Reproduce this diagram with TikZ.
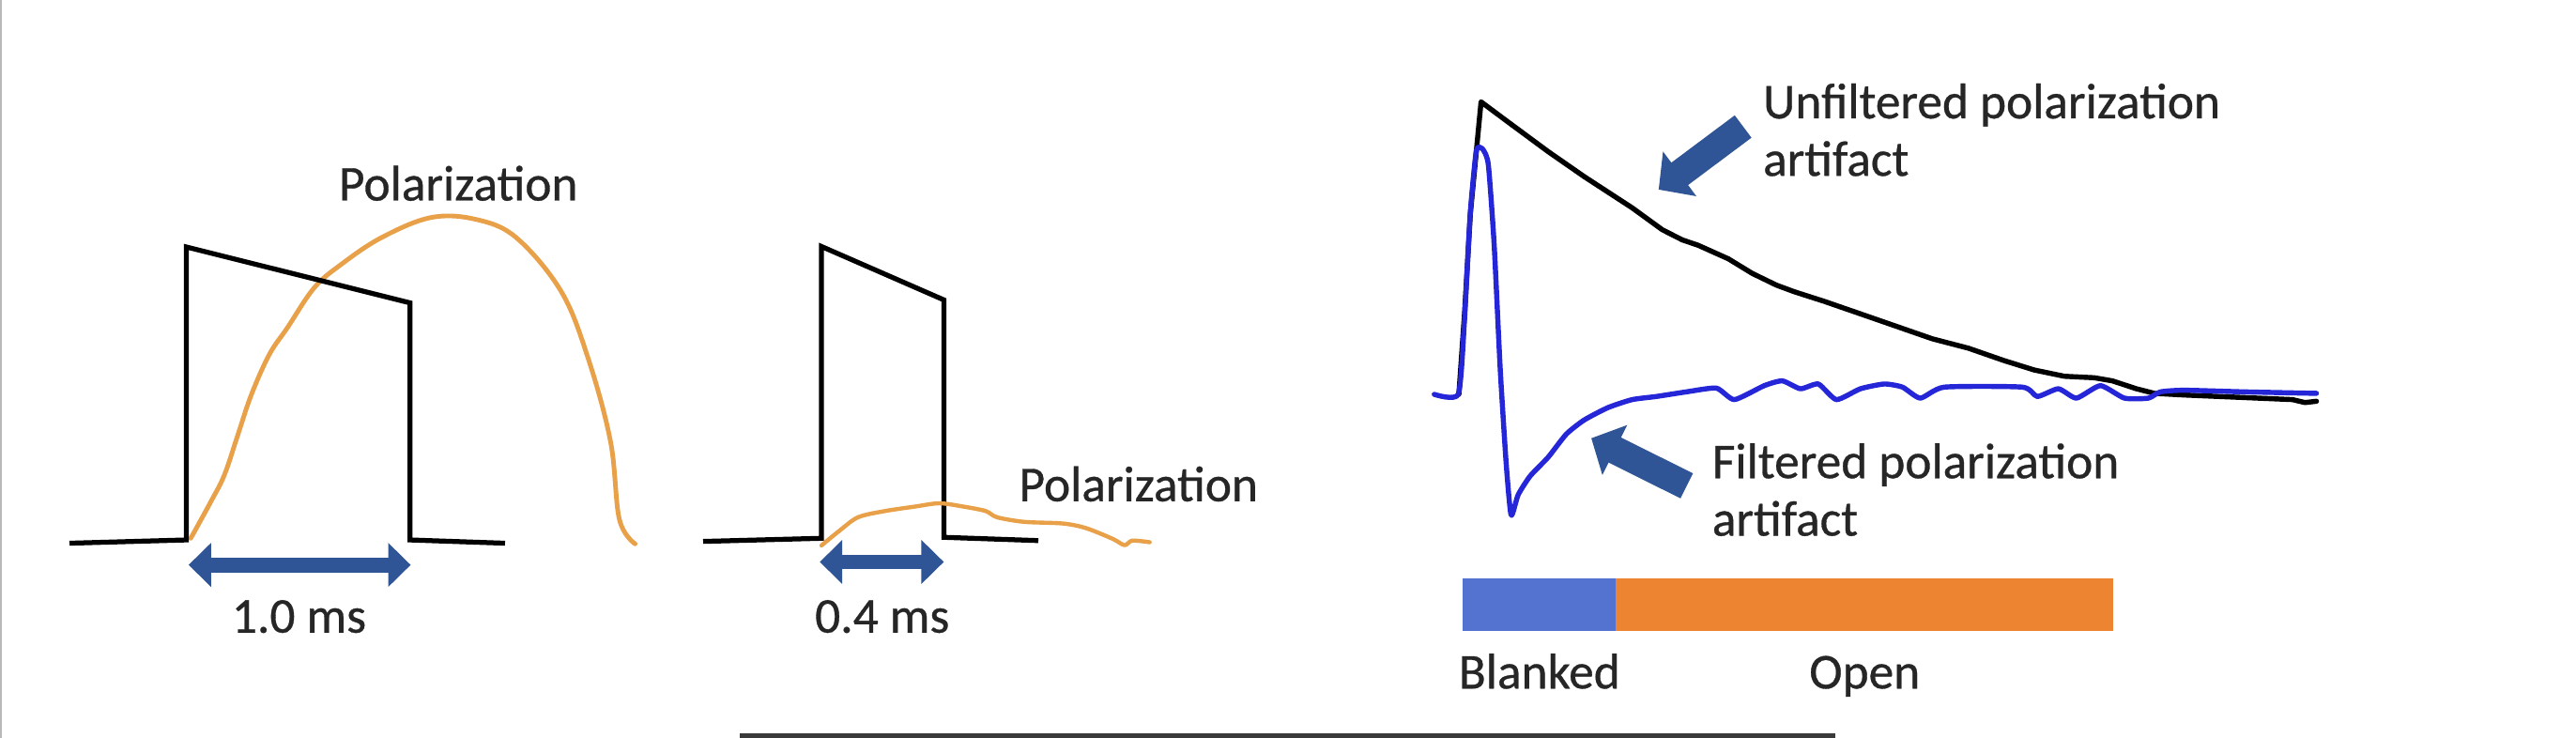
\documentclass[tikz,border=0pt]{standalone}
\usepackage{fontspec}
\setmainfont{Carlito}
\newfontfamily\lblfont{Carlito}[FakeBold=0.6]
\usetikzlibrary{arrows.meta}
\definecolor{arrowblue}{HTML}{2F5597}
\definecolor{polorange}{HTML}{E8A049}
\definecolor{barorange}{HTML}{ED8431}
\definecolor{barblue}{HTML}{5472CF}
\definecolor{tracblue}{HTML}{2626D9}
\definecolor{txtgray}{HTML}{262626}
\definecolor{darkbar}{HTML}{3A3A3A}
\begin{document}
\begin{tikzpicture}[x=1pt,y=-1pt,
  lbl/.style={font=\lblfont\fontsize{30.5}{36}\selectfont, text=txtgray, inner sep=0pt},
  pulse/.style={line width=3pt, line join=miter, black},
  polcurve/.style={line width=2.8pt, polorange, line cap=round, line join=round},
  dimarrow/.style={arrowblue, line width=9pt, {Triangle[length=13.7pt,width=26pt]}-{Triangle[length=13.7pt,width=26pt]}},
  blockarrow/.style={arrowblue, line width=17pt, -{Triangle[length=16pt,width=33pt]}},
  trace/.style={line width=3.1pt, line join=round, line cap=round},
  barseg/.style={inner sep=0pt, minimum height=32pt, anchor=north west, draw=none}
  ]
\useasboundingbox (0,0) rectangle (1568,449);
\fill[white] (0,0) rectangle (1568,449);
\draw[gray!55, line width=1pt] (0.5,0) -- (0.5,449);
\fill[darkbar] (450,446.5) rectangle (1117,449.5);

% ---------- panel 1 ----------
\draw[polcurve] plot[smooth, tension=0.6] coordinates {(116.1,327.6) (128.4,305.2) (136.6,289) (144.8,264.6) (153,240.2) (163.9,215.8) (174.9,199.5) (191.3,175.1) (207.7,160.9) (232.2,144.6) (262.3,132.4) (289.6,133.5) (314.2,144.6) (341.5,177.2) (357.9,217.8) (371.6,268.6) (377,316) (386.6,331)};
\coordinate (p1a) at (42.3,330.6);
\coordinate (p1b) at (113.4,328.6);
\coordinate (p1c) at (113.4,150.3);
\coordinate (p1d) at (249.5,184.3);
\coordinate (p1e) at (249.5,328.6);
\coordinate (p1f) at (307.4,330.6);
\draw[pulse] (p1a) -- (p1b) -- (p1c) -- (p1d) -- (p1e) -- (p1f);
\coordinate (d1l) at (114.8,343.8);
\coordinate (d1r) at (250,343.8);
\draw[dimarrow] (d1l) -- (d1r);
\node[lbl, anchor=base] (pol1) at (279,122) {Polarization};
\node[lbl, anchor=base] (ms1) at (182,385) {1.0 ms};

% ---------- panel 2 ----------
\coordinate (p2a) at (428,329.5);
\coordinate (p2b) at (500,327.6);
\coordinate (p2c) at (500,150);
\coordinate (p2d) at (574.5,182.5);
\coordinate (p2e) at (574.5,327);
\coordinate (p2f) at (632,329);
\draw[pulse] (p2a) -- (p2b) -- (p2c) -- (p2d) -- (p2e) -- (p2f);
\draw[polcurve, line width=2.5pt] plot[smooth, tension=0.5] coordinates {(500,332) (510.6,323.3) (522.3,314.8) (538.8,311) (557.6,308.2) (571.7,306.3) (585.8,308.2) (599.9,311) (606.9,314.8) (623.4,317.6) (646.9,318.6) (661,321.4) (677.4,328) (684.5,331.8) (689.2,329) (699.8,330)};
\coordinate (d2l) at (499,342);
\coordinate (d2r) at (574.5,342);
\draw[dimarrow] (d2l) -- (d2r);
\node[lbl, anchor=base] (pol2) at (693,305) {Polarization};
\node[lbl, anchor=base] (ms2) at (537,385) {0.4 ms};

% ---------- panel 3 ----------
\draw[trace, black] plot coordinates {(888,240) (891.5,190) (895,130) (901.5,62) (916.8,73.4) (942.4,92.3) (964.3,107.5) (993.5,126.5) (1011.8,139.8) (1024,146) (1033.7,149.3) (1052,157.5) (1066.6,166.4) (1081.2,173.5) (1092,177.5) (1110.4,183.4) (1132.4,191) (1154.3,198.6) (1176.2,206.2) (1198.1,211.9) (1220,219.5) (1238.3,225.2) (1256.6,229) (1274.8,229.9) (1285.8,231.8) (1300.4,236.6) (1311.4,239.4) (1329.6,240.4) (1395.4,243.2) (1403,245) (1410,244.2)};
\draw[trace, tracblue] plot[smooth, tension=0.35] coordinates {(873,240) (887.6,240) (891.3,196.7) (894.9,130.3) (898.6,92) (902.2,90.4) (905.9,100) (909.5,149.3) (913.2,225.2) (916.8,282.1) (919.8,313.5) (924.1,301.1) (931.4,289.7) (942.4,278.2) (953.4,264.2) (964.3,255.6) (978.9,248) (993.5,243.2) (1008.2,241.3) (1026.4,238.5) (1044.7,236.2) (1055.7,243.2) (1073.9,234.7) (1084.9,231.8) (1095.9,236.6) (1106.8,233.7) (1117.8,243.2) (1132.4,236.6) (1147,233.7) (1158,235.6) (1168.9,242.3) (1183.5,235.6) (1231,235.6) (1240.1,241.3) (1252.9,236.6) (1263.9,242.3) (1278.5,234.7) (1293.1,242.3) (1307.7,242.3) (1315,238.5) (1329.6,237.5) (1366.2,238.5) (1410,239.4)};
\coordinate (ua1) at (1061,77);
\coordinate (ua2) at (1009.6,115.4);
\draw[blockarrow] (ua1) -- (ua2);
\coordinate (fa1) at (1026.7,295.7);
\coordinate (fa2) at (968.6,266.7);
\draw[blockarrow] (fa1) -- (fa2);
\node[lbl, anchor=base west] (unf1) at (1073,72) {Unfiltered polarization};
\node[lbl, anchor=base west] (unf2) at (1073,107) {artifact};
\node[lbl, anchor=base west] (fil1) at (1042,291) {Filtered polarization};
\node[lbl, anchor=base west] (fil2) at (1042,326) {artifact};

\node[barseg, fill=barblue, minimum width=93pt] (blankbar) at (890,352) {};
\node[barseg, fill=barorange, minimum width=303pt] (openbar) at (983,352) {};
\node[lbl, anchor=base] (blk) at (937,419) {Blanked};
\node[lbl, anchor=base] (opn) at (1135,419) {Open};
\end{tikzpicture}
\end{document}
